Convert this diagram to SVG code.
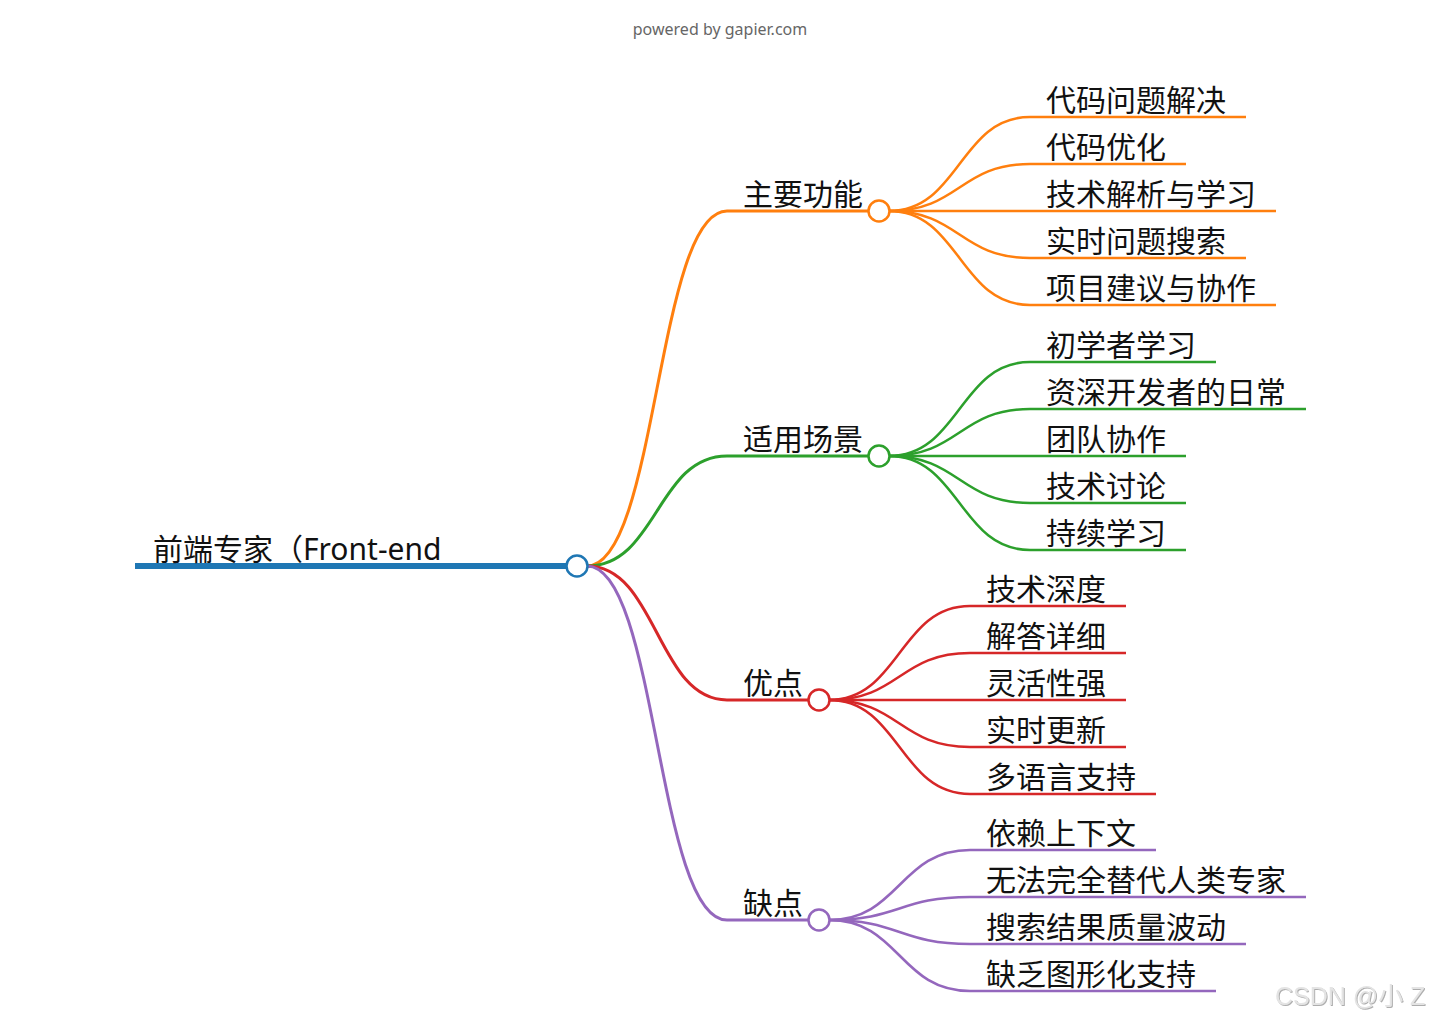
<svg xmlns="http://www.w3.org/2000/svg" width="1440" height="1021" viewBox="0 0 1440 1021">
<style>
.t{font-family:"Noto Sans","Noto Sans CJK SC",sans-serif;font-size:30px;fill:#111}
.o{stroke:#ff7f0e}.g{stroke:#2ca02c}.r{stroke:#d62728}.p{stroke:#9467bd}.b{stroke:#1f77b4}
.l1{stroke-width:3;fill:none}
.l2{stroke-width:2.5;fill:none}
.dot{fill:#fff;stroke-width:2.5}
</style>
<defs>
<filter id="emb" x="-10%" y="-20%" width="120%" height="150%"><feDropShadow dx="1" dy="1" stdDeviation="0.6" flood-color="#999" flood-opacity="0.8"/></filter>
</defs>
<rect width="1440" height="1021" fill="#fff"/>
<text x="720" y="35" text-anchor="middle" font-family="Noto Sans, sans-serif" font-size="16" fill="#666">powered by gapier.com</text>
<g id="connectors">
<path class="l1 o" d="M587,566 C657,566 657,211 727,211"/>
<path class="l1 g" d="M587,566 C657,566 657,456 727,456"/>
<path class="l1 r" d="M587,566 C657,566 657,700 727,700"/>
<path class="l1 p" d="M587,566 C657,566 657,920 727,920"/>
<path class="l2 o" d="M889,211 C959.5,211 959.5,117 1030,117"/>
<path class="l2 o" d="M889,211 C959.5,211 959.5,164 1030,164"/>
<path class="l2 o" d="M889,211 L1030,211"/>
<path class="l2 o" d="M889,211 C959.5,211 959.5,258 1030,258"/>
<path class="l2 o" d="M889,211 C959.5,211 959.5,305 1030,305"/>
<path class="l2 g" d="M889,456 C959.5,456 959.5,362 1030,362"/>
<path class="l2 g" d="M889,456 C959.5,456 959.5,409 1030,409"/>
<path class="l2 g" d="M889,456 L1030,456"/>
<path class="l2 g" d="M889,456 C959.5,456 959.5,503 1030,503"/>
<path class="l2 g" d="M889,456 C959.5,456 959.5,550 1030,550"/>
<path class="l2 r" d="M829,700 C899.5,700 899.5,606 970,606"/>
<path class="l2 r" d="M829,700 C899.5,700 899.5,653 970,653"/>
<path class="l2 r" d="M829,700 L970,700"/>
<path class="l2 r" d="M829,700 C899.5,700 899.5,747 970,747"/>
<path class="l2 r" d="M829,700 C899.5,700 899.5,794 970,794"/>
<path class="l2 p" d="M829,920 C899.5,920 899.5,850 970,850"/>
<path class="l2 p" d="M829,920 C899.5,920 899.5,897 970,897"/>
<path class="l2 p" d="M829,920 C899.5,920 899.5,944 970,944"/>
<path class="l2 p" d="M829,920 C899.5,920 899.5,991 970,991"/>
</g>
<g id="root">
<line x1="135" y1="566" x2="577" y2="566" stroke="#1f77b4" stroke-width="6"/>
<text class="t" x="153" y="560">前端专家（Front-end</text>
<circle class="dot b" cx="577" cy="566" r="10.5"/>
</g>
<g id="n-main">
<line class="l1 o" x1="727" y1="211" x2="870" y2="211"/>
<text class="t" x="743" y="205">主要功能</text>
<circle class="dot o" cx="879" cy="211" r="10.5"/>
</g>
<g id="n-scene">
<line class="l1 g" x1="727" y1="456" x2="870" y2="456"/>
<text class="t" x="743" y="450">适用场景</text>
<circle class="dot g" cx="879" cy="456" r="10.5"/>
</g>
<g id="n-pros">
<line class="l1 r" x1="727" y1="700" x2="810" y2="700"/>
<text class="t" x="743" y="694">优点</text>
<circle class="dot r" cx="819" cy="700" r="10.5"/>
</g>
<g id="n-cons">
<line class="l1 p" x1="727" y1="920" x2="810" y2="920"/>
<text class="t" x="743" y="914">缺点</text>
<circle class="dot p" cx="819" cy="920" r="10.5"/>
</g>
<g id="n-main-1"><line class="l2 o" x1="1030" y1="117" x2="1246" y2="117"/><text class="t" x="1046" y="111">代码问题解决</text></g>
<g id="n-main-2"><line class="l2 o" x1="1030" y1="164" x2="1186" y2="164"/><text class="t" x="1046" y="158">代码优化</text></g>
<g id="n-main-3"><line class="l2 o" x1="1030" y1="211" x2="1276" y2="211"/><text class="t" x="1046" y="205">技术解析与学习</text></g>
<g id="n-main-4"><line class="l2 o" x1="1030" y1="258" x2="1246" y2="258"/><text class="t" x="1046" y="252">实时问题搜索</text></g>
<g id="n-main-5"><line class="l2 o" x1="1030" y1="305" x2="1276" y2="305"/><text class="t" x="1046" y="299">项目建议与协作</text></g>
<g id="n-scene-1"><line class="l2 g" x1="1030" y1="362" x2="1216" y2="362"/><text class="t" x="1046" y="356">初学者学习</text></g>
<g id="n-scene-2"><line class="l2 g" x1="1030" y1="409" x2="1306" y2="409"/><text class="t" x="1046" y="403">资深开发者的日常</text></g>
<g id="n-scene-3"><line class="l2 g" x1="1030" y1="456" x2="1186" y2="456"/><text class="t" x="1046" y="450">团队协作</text></g>
<g id="n-scene-4"><line class="l2 g" x1="1030" y1="503" x2="1186" y2="503"/><text class="t" x="1046" y="497">技术讨论</text></g>
<g id="n-scene-5"><line class="l2 g" x1="1030" y1="550" x2="1186" y2="550"/><text class="t" x="1046" y="544">持续学习</text></g>
<g id="n-pros-1"><line class="l2 r" x1="970" y1="606" x2="1126" y2="606"/><text class="t" x="986" y="600">技术深度</text></g>
<g id="n-pros-2"><line class="l2 r" x1="970" y1="653" x2="1126" y2="653"/><text class="t" x="986" y="647">解答详细</text></g>
<g id="n-pros-3"><line class="l2 r" x1="970" y1="700" x2="1126" y2="700"/><text class="t" x="986" y="694">灵活性强</text></g>
<g id="n-pros-4"><line class="l2 r" x1="970" y1="747" x2="1126" y2="747"/><text class="t" x="986" y="741">实时更新</text></g>
<g id="n-pros-5"><line class="l2 r" x1="970" y1="794" x2="1156" y2="794"/><text class="t" x="986" y="788">多语言支持</text></g>
<g id="n-cons-1"><line class="l2 p" x1="970" y1="850" x2="1156" y2="850"/><text class="t" x="986" y="844">依赖上下文</text></g>
<g id="n-cons-2"><line class="l2 p" x1="970" y1="897" x2="1306" y2="897"/><text class="t" x="986" y="891">无法完全替代人类专家</text></g>
<g id="n-cons-3"><line class="l2 p" x1="970" y1="944" x2="1246" y2="944"/><text class="t" x="986" y="938">搜索结果质量波动</text></g>
<g id="n-cons-4"><line class="l2 p" x1="970" y1="991" x2="1216" y2="991"/><text class="t" x="986" y="985">缺乏图形化支持</text></g>
<text x="1275" y="1005" font-family="Liberation Sans, Noto Sans CJK SC, sans-serif" font-size="25" fill="#e4e4e4" filter="url(#emb)">CSDN @小 Z</text>
</svg>
